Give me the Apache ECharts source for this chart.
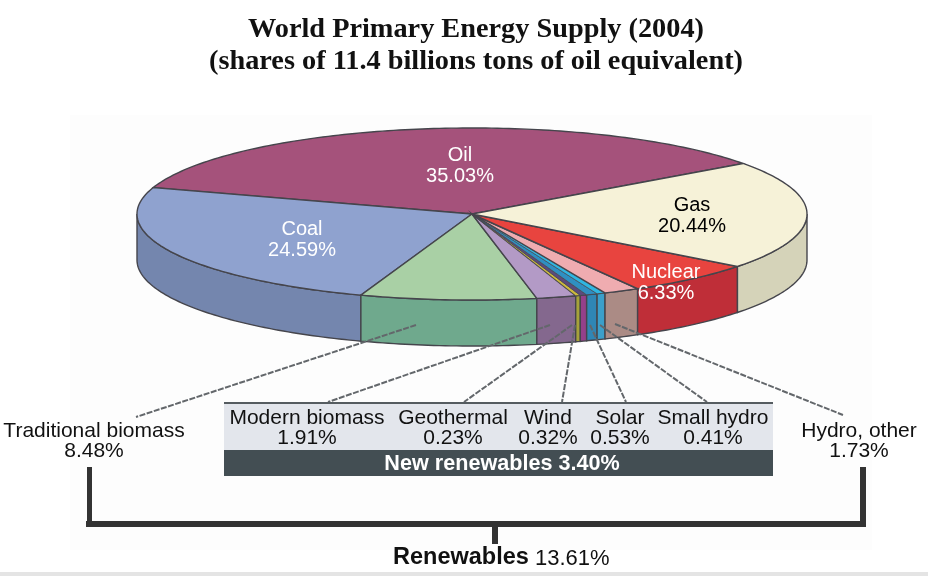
<!DOCTYPE html>
<html><head><meta charset="utf-8">
<style>html,body{margin:0;padding:0;background:#fff}#c{width:928px;height:576px}</style>
<script src="https://cdn.jsdelivr.net/npm/echarts@6/dist/echarts.min.js"></script>
</head><body><div id="c"></div>
<script>
// Data
var sliceNames = ['Oil','Coal','Traditional biomass','Modern biomass','Geothermal','Wind','Solar','Small hydro','Hydro, other','Nuclear','Gas'];
var sliceValues = [35.03,24.59,8.48,1.91,0.23,0.32,0.53,0.41,1.73,6.33,20.44];
var newRenewablesTotal = '3.40%';
var renewablesTotal = '13.61%';

// Styles
var topColors = ['#a5527b','#8fa2cf','#a9d0a5','#b39ac6','#cdb93c','#5b4a7c','#2f8fc2','#2fb6e2','#efacb0','#e8443f','#f6f2d8'];
var sideColors = ['#7d3f5e','#7486ae','#6fa98d','#84688e','#a6a23a','#94408a','#2f86b5','#3b9fca','#ab8b85','#bf2e38','#d5d3b9'];
var labelled = {Oil:['#fff',460,166],Coal:['#fff',302,240],Gas:['#000',692,216],Nuclear:['#fff',666,283]};
var CX=472, CY=214, RX=335, RY=86, DEPTH=46, START=36;
var SANS='"Liberation Sans",Arial,sans-serif', SERIF='"Liberation Serif","Times New Roman",serif';
var EDGE='#45454c';

function pt(deg,dy){var a=deg*Math.PI/180;return [CX+RX*Math.cos(a),CY-RY*Math.sin(a)+(dy||0)];}
function arc(a0,a1,dy){var p=[],n=Math.max(2,Math.ceil(Math.abs(a1-a0)));for(var i=0;i<=n;i++)p.push(pt(a0+(a1-a0)*i/n,dy));return p;}

function renderSlice(params,api){
  var i=params.dataIndex, before=0;
  for(var k=0;k<i;k++)before+=sliceValues[k];
  var v=api.value(0), a0=START+before*3.6, a1=a0+v*3.6, kids=[];
  var s0=Math.max(a0,180), s1=Math.min(a1,360);
  if(s1>s0){
    kids.push({type:'polygon',shape:{points:arc(s0,s1,0).concat(arc(s1,s0,DEPTH))},
      style:{fill:sideColors[i],stroke:EDGE,lineWidth:1.4}});
  }
  kids.push({type:'polygon',shape:{points:[[CX,CY]].concat(arc(a0,a1,0))},
    style:{fill:topColors[i],stroke:EDGE,lineWidth:v<1?0.7:1.4}});
  var l=labelled[sliceNames[i]];
  if(l){kids.push({type:'text',z2:50,style:{x:l[1],y:l[2],text:sliceNames[i]+'\n'+v.toFixed(2)+'%',fill:l[0],
    font:'20px '+SANS,lineHeight:21,align:'center',verticalAlign:'middle'}});}
  return {type:'group',children:kids};
}

function leader(a,b){return {type:'line',shape:{x1:a[0],y1:a[1],x2:b[0],y2:b[1]},z:5,
  style:{stroke:'#63676b',lineWidth:2,lineDash:[6,1.5]}};}
function txt(t,x,y,o){o=o||{};return {type:'text',z:8,style:{x:x,y:y,text:t,fill:o.fill||'#111',
  font:(o.weight||'normal')+' '+(o.size||21)+'px '+(o.family||SANS),align:o.align||'center',verticalAlign:'middle',lineHeight:20}};}
function bar(x,y,w,h,f,z){return {type:'rect',z:z===undefined?6:z,shape:{x:x,y:y,width:w,height:h},style:{fill:f}};}
function pct(n){return sliceValues[sliceNames.indexOf(n)].toFixed(2)+'%';}

var boxItems=[['Modern biomass',307],['Geothermal',453],['Wind',548],['Solar',620],['Small hydro',713]];
var g=[
  bar(70,115,802,435,'#fdfdfd',0),
  bar(0,572,928,4,'#e4e4e4',0),
  leader([416,325],[136,417]),leader([550,325],[328,402]),leader([572,325],[464,402]),
  leader([575,325],[562,402]),leader([590,325],[626,402]),leader([600,325],[707,402]),leader([615,324],[843,415]),
  bar(224,402,549,48,'#e3e6ec'),bar(224,402,549,2,'#555c60'),bar(224,450,549,26,'#434e53'),
  txt('New renewables '+newRenewablesTotal,502,464,{fill:'#fff',weight:'bold',size:21.6}),
  txt('Traditional biomass\n'+pct('Traditional biomass'),94,441),
  txt('Hydro, other\n'+pct('Hydro, other'),859,441),
  bar(87,467,5,60,'#333'),bar(860,467,6,60,'#333'),bar(86,521,780,6,'#333'),bar(492,527,6,17,'#333'),
  txt('Renewables',393,558,{align:'left',size:23.5,weight:'bold'}),
  txt(renewablesTotal,535,559,{align:'left',size:22})
];
boxItems.forEach(function(b){g.push(txt(b[0]+'\n'+pct(b[0]),b[1],428));});

var chart=echarts.init(document.getElementById('c'),null,{renderer:'canvas'});
chart.setOption({
  animation:false,backgroundColor:'#fff',
  title:{text:'World Primary Energy Supply (2004)\n(shares of 11.4 billions tons of oil equivalent)',left:471,top:9,
    textAlign:'center',
    textStyle:{fontFamily:SERIF,fontWeight:'bold',fontSize:28.3,lineHeight:32,color:'#111',align:'center'}},
  graphic:{elements:g},
  series:[{type:'custom',coordinateSystem:'none',z:4,data:sliceValues.map(function(v,i){return {name:sliceNames[i],value:[v]};}),renderItem:renderSlice,silent:true}]
});
</script></body></html>
